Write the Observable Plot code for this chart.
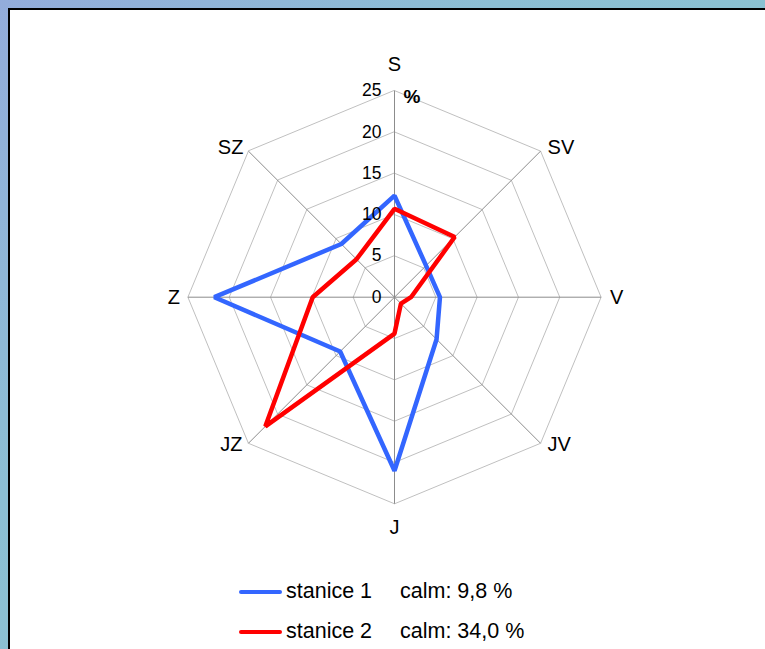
<!DOCTYPE html>
<html>
<head>
<meta charset="utf-8">
<script src="https://cdn.jsdelivr.net/npm/d3@7"></script>
<script src="https://cdn.jsdelivr.net/npm/@observablehq/plot@0.6"></script>
<style>
  html, body { margin: 0; padding: 0; }
  body {
    width: 765px; height: 649px; overflow: hidden; position: relative;
    background: linear-gradient(135deg, #93acdb 0%, #8cbfd4 35%, #88c7cd 100%);
    font-family: "Liberation Sans", Arial, sans-serif;
  }
  #panel {
    position: absolute; left: 8px; top: 8px; width: 800px; height: 700px;
    background: #fff; border-left: 2px solid #000; border-top: 2px solid #000;
  }
  #chart { position: absolute; left: 0; top: 0; }
  .leg { position: absolute; font-size: 21.5px; color: #000; line-height: 1; }
  .sw { position: absolute; height: 4.5px; border-radius: 2px; width: 43px; }
</style>
</head>
<body>
<div id="panel"></div>
<div id="chart"></div>
<div id="legend"></div>
<script>
const directions = ["S", "SV", "V", "JV", "J", "JZ", "Z", "SZ"];
const station1 = [12.3, 5.4, 5.5, 7.2, 21.0, 9.3, 21.8, 9.1];
const station2 = [10.7, 10.3, 2.0, 1.1, 4.4, 22.1, 9.9, 6.5];
const ringTicks = [0, 5, 10, 15, 20, 25];
const seriesNames = ["stanice 1", "stanice 2"];
const calmLabels = ["calm: 9,8 %", "calm: 34,0 %"];
const seriesColors = ["#3366ff", "#ff0000"];
const unitLabel = "%";

const rMax = 25;
const W = 765, H = 560;
const cx = 394, cy = 296.7, pxPerUnit = 206.6 / rMax;

const ang = i => i * Math.PI / 4;
const px = (r, i) => r * Math.sin(ang(i));
const py = (r, i) => r * Math.cos(ang(i));

// rings
const rings = [];
ringTicks.filter(t => t > 0).forEach(t => {
  directions.forEach((d, i) => rings.push({ring: t, x: px(t, i), y: py(t, i)}));
});
// spokes
const spokes = directions.map((d, i) => ({x2: px(rMax, i), y2: py(rMax, i)}));
// series
const pts = [];
[station1, station2].forEach((vals, s) => {
  vals.forEach((v, i) => pts.push({series: seriesNames[s], x: px(v, i), y: py(v, i)}));
});
// direction labels
const dirOffsets = {
  S: [0, -26], SV: [7, -4], V: [9, 0], JV: [7, 1],
  J: [0, 24], JZ: [-6, 1], Z: [-8, 0], SZ: [-5, -4]
};
const dirLabels = directions.map((d, i) => {
  const s = Math.sin(ang(i));
  return {
    label: d, x: px(rMax, i), y: py(rMax, i),
    anchor: s > 0.1 ? "start" : s < -0.1 ? "end" : "middle",
    dx: dirOffsets[d][0], dy: dirOffsets[d][1]
  };
});

const plot = Plot.plot({
  width: W, height: H,
  margin: 0,
  x: {domain: [-cx / pxPerUnit, (W - cx) / pxPerUnit], range: [0, W], axis: null},
  y: {domain: [-(H - cy) / pxPerUnit, cy / pxPerUnit], range: [H, 0], axis: null},
  style: {background: "transparent", fontFamily: "Liberation Sans, Arial, sans-serif"},
  marks: [
    Plot.line(rings, {x: "x", y: "y", z: "ring", curve: "linear-closed", stroke: "#c0c0c0", strokeWidth: 1}),
    Plot.link(spokes, {x1: 0, y1: 0, x2: "x2", y2: "y2", stroke: "#8c8c8c", strokeWidth: 1}),
    Plot.line(pts, {x: "x", y: "y", z: "series", curve: "linear-closed",
      stroke: d => seriesColors[seriesNames.indexOf(d.series)], strokeWidth: 4.5, strokeLinejoin: "miter"}),
    Plot.text(ringTicks, {x: 0, y: d => d, text: d => String(d), textAnchor: "end", dx: -13, fontSize: 17.5, fill: "#000"}),
    Plot.text([unitLabel], {x: 0, y: rMax, text: d => d, textAnchor: "start", dx: 9, dy: 6, fontSize: 19, fontWeight: "bold", fill: "#000"}),
    ...dirLabels.map(d => Plot.text([d], {x: "x", y: "y", text: "label", textAnchor: d.anchor, dx: d.dx, dy: d.dy, fontSize: 20, fill: "#000"}))
  ]
});
document.getElementById("chart").appendChild(plot);

// legend
const leg = document.getElementById("legend");
const rowsY = [591.5, 631.5];
seriesNames.forEach((n, i) => {
  const sw = document.createElement("div");
  sw.className = "sw";
  sw.style.left = "239px";
  sw.style.top = (rowsY[i] - 2) + "px";
  sw.style.background = seriesColors[i];
  leg.appendChild(sw);
  const t1 = document.createElement("div");
  t1.className = "leg";
  t1.style.left = "286px";
  t1.style.top = (rowsY[i] - 11) + "px";
  t1.textContent = n;
  leg.appendChild(t1);
  const t2 = document.createElement("div");
  t2.className = "leg";
  t2.style.left = "400px";
  t2.style.top = (rowsY[i] - 11) + "px";
  t2.textContent = calmLabels[i];
  leg.appendChild(t2);
});
</script>
</body>
</html>
